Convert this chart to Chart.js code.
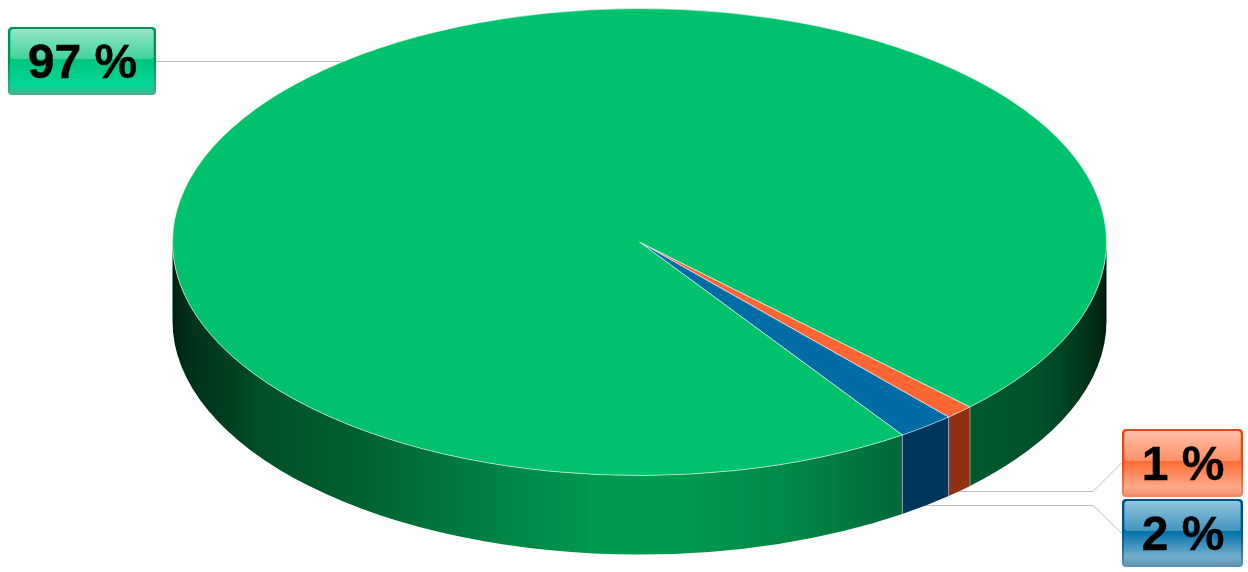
<!DOCTYPE html>
<html>
<head>
<meta charset="utf-8">
<title>Pie</title>
<script src="https://cdn.jsdelivr.net/npm/chart.js@4"></script>
<style>
  html, body { margin: 0; padding: 0; background: #fff; overflow: hidden; }
  canvas { display: block; }
</style>
</head>
<body>
<canvas id="canvas" width="1248" height="572" style="width:1248px;height:572px"></canvas>
<script>
// data
const categories = ['Orange', 'Blue', 'Green'];
const seriesValues = [1, 2, 97];
const tickLabels = seriesValues.map(function (v) { return v + ' %'; });

// styles
const topColors = ['#FF6633', '#006CA6', '#00C26C'];
const wallColors = ['#8F3010', '#00355C', null];
const greenWallStops = [
    [0, '#00200F'], [0.015, '#00301A'], [0.06, '#003F1E'], [0.095, '#004F27'], [0.2, '#00612F'],
    [0.29, '#00763D'], [0.38, '#008A47'], [0.46, '#00994F'], [0.54, '#00994F'], [0.65, '#008A47'],
    [0.72, '#007A3E'], [0.78, '#00683A'], [0.86, '#00592D'], [0.93, '#00502A'], [0.97, '#003A1C'],
    [0.99, '#002A14'], [1, '#001C0D']
];
const labelBoxes = [
    { x: 1122, y: 429, w: 121, h: 68, border: '#DE4A1D', top: '#FF6A33', bottom: '#FFA98A', edge: '#F08A68' },
    { x: 1122, y: 499, w: 121, h: 68, border: '#00507F', top: '#0072AA', bottom: '#73ADCC', edge: '#5F93B3' },
    { x: 8, y: 27, w: 148, h: 68, border: '#00915A', top: '#00C57C', bottom: '#00D698', edge: '#45B08C' }
];
const leaders = [
    [[1122, 462.5], [1093, 491.5], [800, 491.5]],
    [[1122, 533.5], [1093, 505.5], [800, 505.5]],
    [[156, 61.5], [500, 61.5]]
];

const squash = 0.5;
const depth = 79;

function roundRectPath(ctx, x, y, w, h, r) {
    ctx.beginPath();
    ctx.roundRect(x, y, w, h, r);
}

function drawWalls(chart) {
    const ctx = chart.ctx;
    const arcs = chart.getDatasetMeta(0).data;
    arcs.forEach(function (arc, i) {
        const R = arc.outerRadius;
        // only the part of the rim facing the viewer has a wall
        for (let k = 0; k < 2; k++) {
            const a = Math.max(arc.startAngle, k * 2 * Math.PI);
            const b = Math.min(arc.endAngle, k * 2 * Math.PI + Math.PI);
            if (b <= a) continue;
            ctx.beginPath();
            ctx.ellipse(arc.x, arc.y, R, R * squash, 0, a, b);
            ctx.ellipse(arc.x, arc.y + depth, R, R * squash, 0, b, a, true);
            ctx.closePath();
            if (wallColors[i]) {
                ctx.fillStyle = wallColors[i];
            } else {
                const g = ctx.createLinearGradient(arc.x - R, 0, arc.x + R, 0);
                greenWallStops.forEach(function (s) { g.addColorStop(s[0], s[1]); });
                ctx.fillStyle = g;
            }
            ctx.fill();
        }
    });
    // thin lines where two walls meet
    ctx.strokeStyle = 'rgba(200,200,200,0.6)';
    ctx.lineWidth = 1;
    arcs.slice(0, 2).forEach(function (arc, i) {
        const angles = i === 0 ? [arc.startAngle, arc.endAngle] : [arc.endAngle];
        angles.forEach(function (t) {
            const px = arc.x + arc.outerRadius * Math.cos(t);
            const py = arc.y + arc.outerRadius * squash * Math.sin(t);
            ctx.beginPath();
            ctx.moveTo(px, py);
            ctx.lineTo(px, py + depth);
            ctx.stroke();
        });
    });
}

function drawLeaders(ctx) {
    ctx.strokeStyle = '#BDBDBD';
    ctx.lineWidth = 1;
    leaders.forEach(function (pts) {
        ctx.beginPath();
        pts.forEach(function (p, i) {
            if (i === 0) ctx.moveTo(p[0], p[1]);
            else ctx.lineTo(p[0], p[1]);
        });
        ctx.stroke();
    });
}

function drawLabel(ctx, box, text) {
    const mid = box.y + box.h * 0.47;
    const g = ctx.createLinearGradient(0, box.y, 0, box.y + box.h);
    g.addColorStop(0, box.top);
    g.addColorStop(0.47, box.top);
    g.addColorStop(0.85, box.bottom);
    g.addColorStop(1, box.edge);
    roundRectPath(ctx, box.x, box.y, box.w, box.h, 4);
    ctx.fillStyle = g;
    ctx.fill();

    // gloss on the upper half
    const gloss = ctx.createLinearGradient(0, box.y + 2, 0, mid);
    gloss.addColorStop(0, 'rgba(255,255,255,0.58)');
    gloss.addColorStop(1, 'rgba(255,255,255,0.25)');
    roundRectPath(ctx, box.x + 2.5, box.y + 2, box.w - 5, mid - box.y - 2, 3);
    ctx.fillStyle = gloss;
    ctx.fill();

    // darker rim, strongest along the top
    roundRectPath(ctx, box.x + 1, box.y + 1, box.w - 2, box.h - 2, 4);
    const rim = ctx.createLinearGradient(0, box.y, 0, box.y + box.h);
    rim.addColorStop(0, box.border);
    rim.addColorStop(0.5, box.border);
    rim.addColorStop(1, box.edge);
    ctx.strokeStyle = rim;
    ctx.lineWidth = 2;
    ctx.stroke();

    ctx.fillStyle = '#000';
    ctx.strokeStyle = '#000';
    ctx.lineWidth = 0.4;
    ctx.font = 'bold 48px "Liberation Sans", Arial, sans-serif';
    ctx.textAlign = 'center';
    ctx.textBaseline = 'alphabetic';
    ctx.fillText(text, box.x + box.w / 2 + 0.5, box.y + box.h / 2 + 16.5);
    ctx.strokeText(text, box.x + box.w / 2 + 0.5, box.y + box.h / 2 + 16.5);
}

const tiltPlugin = {
    id: 'tilt',
    beforeDatasetsDraw: function (chart) {
        drawLeaders(chart.ctx);
        drawWalls(chart);
    },
    beforeDatasetDraw: function (chart) {
        const arc = chart.getDatasetMeta(0).data[0];
        const ctx = chart.ctx;
        ctx.save();
        ctx.translate(arc.x, arc.y);
        ctx.scale(1, squash);
        ctx.translate(-arc.x, -arc.y);
    },
    afterDatasetDraw: function (chart) {
        chart.ctx.restore();
    },
    afterDraw: function (chart) {
        labelBoxes.forEach(function (box, i) {
            drawLabel(chart.ctx, box, tickLabels[i]);
        });
    }
};

const myChart = new Chart(document.getElementById('canvas').getContext('2d'), {
    type: 'pie',
    data: {
        labels: categories,
        datasets: [{
            data: seriesValues,
            backgroundColor: topColors,
            borderColor: 'rgba(255,255,255,0.75)',
            borderWidth: 1,
            clip: false
        }]
    },
    options: {
        responsive: false,
        animation: false,
        devicePixelRatio: 1,
        rotation: 134.95,
        radius: 467,
        layout: { padding: { left: 31, right: 0, top: 0, bottom: 88 } },
        plugins: {
            legend: { display: false },
            tooltip: { enabled: false }
        }
    },
    plugins: [tiltPlugin]
});
</script>
</body>
</html>
